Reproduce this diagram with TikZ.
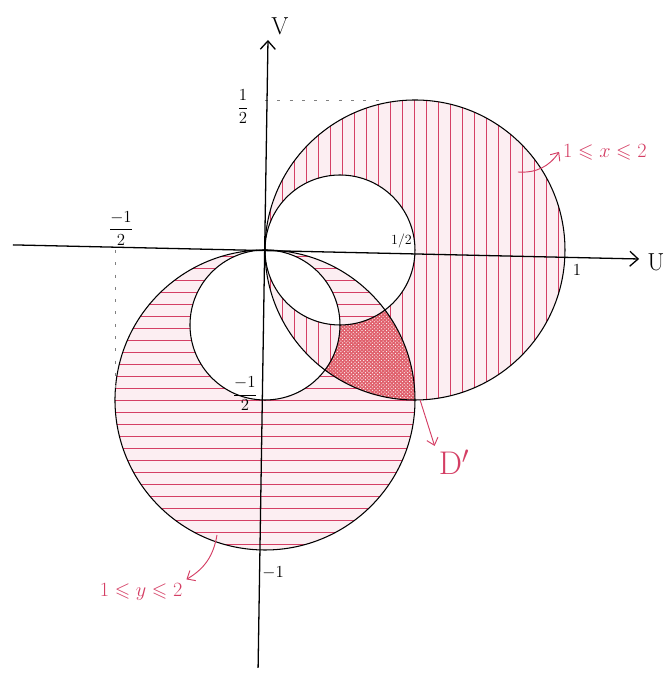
\documentclass[tikz,border=0pt]{standalone}
\usepackage{amsmath}
\usepackage{amssymb}
\usepackage{tikz}
\usetikzlibrary{arrows.meta, patterns}
\usepackage{xcolor}
\definecolor{stift}{RGB}{212,62,100}
\definecolor{stifthell}{RGB}{252,238,242}
\definecolor{stiftvoll}{RGB}{224,96,108}
\tikzset{
  kreis/.style={line width=0.9pt},
  schraffur/.style={draw=stift, line width=0.85pt},
  achse/.style={line width=1.1pt, -{Straight Barb[length=2.5mm, width=4.5mm]}},
  hilfslinie/.style={gray, line width=0.8pt, dash pattern=on 2.5pt off 8pt},
  zahl/.style={font=\fontsize{15}{17}\selectfont},
  rotlabel/.style={text=stift, font=\fontsize{17}{19}\selectfont},
  zeiger/.style={stift, line width=0.8pt, -{Straight Barb[length=2mm, width=3.5mm]}},
}

\begin{document}
\begin{tikzpicture}[x=9cm, y=9cm]

            \useasboundingbox (-0.8833,-1.4167) rectangle (1.3433,0.8333);

            % senkrechte Schraffur fuer 1 <= x <= 2
            \begin{scope}[even odd rule]
              \clip (0.5,0) circle (0.5) (0.25,0) circle (0.25);
              \fill[stifthell] (0,-0.5) rectangle (1,0.5);
              \foreach \xs in {0.02,0.06,...,1}
                \draw[schraffur] (\xs,-0.5) -- (\xs,0.5);
            \end{scope}

            % waagrechte Schraffur fuer 1 <= y <= 2
            \begin{scope}[even odd rule]
              \clip (0,-0.5) circle (0.5) (0,-0.25) circle (0.25);
              \fill[stifthell] (-0.5,-1) rectangle (0.5,0);
              \foreach \ys in {-0.98,-0.94,...,0}
                \draw[schraffur, line width=0.8pt] (-0.5,\ys) -- (0.5,\ys);
            \end{scope}

            % Schnitt D'
            \begin{scope}[even odd rule]
              \clip (0.5,0) circle (0.5);
              \clip (0,-0.5) circle (0.5);
              \clip (-1,-1) rectangle (1,1) (0.25,0) circle (0.25);
              \clip (-1,-1) rectangle (1,1) (0,-0.25) circle (0.25);
              \fill[stiftvoll] (0,-0.6) rectangle (0.6,0);
              \fill[pattern=crosshatch dots, pattern color=white] (0,-0.6) rectangle (0.6,0);
            \end{scope}

            % Kreise
            \draw[kreis] (0.5,0) circle (0.5);
            \draw[kreis] (0.25,0) circle (0.25);
            \draw[kreis] (0,-0.5) circle (0.5);
            \draw[kreis] (0,-0.25) circle (0.25);

            % gestrichelte Hilfslinien
            \draw[hilfslinie] (0,0.5) -- (0.4,0.5);
            \draw[hilfslinie] (-0.5,0) -- (-0.5,-0.5);

            % Achsen
            \coordinate (ulinks) at (-0.84,0.017);
            \coordinate (urechts) at (1.247,-0.03);
            \coordinate (vunten) at (-0.023,-1.393);
            \coordinate (voben) at (0.01,0.70);
            \draw[achse] (ulinks) -- (urechts);
            \draw[achse] (vunten) -- (voben);
            \node[font=\fontsize{21}{23}\selectfont] (ulab) at (1.303,-0.04) {U};
            \node[font=\fontsize{21}{23}\selectfont] (vlab) at (0.05,0.747) {V};

            % Beschriftung der Achsen
            \node[zahl] (vhalb) at (-0.073,0.477) {$\dfrac{1}{2}$};
            \node[zahl] (uminushalb) at (-0.48,0.073) {$\dfrac{-1}{2}$};
            \node[font=\fontsize{13}{15}\selectfont, inner sep=0pt] (uhalb) at (0.455,0.03) {$1/2$};
            \node[zahl] (vminushalb) at (-0.067,-0.48) {$\dfrac{-1}{2}$};
            \node[zahl] (ueins) at (1.04,-0.067) {$1$};
            \node[zahl] (vminuseins) at (0.027,-1.077) {$-1$};

            % rote Beschriftungen mit Pfeilen
            \node[rotlabel] (xlab) at (1.133,0.327) {$1\leqslant x\leqslant 2$};
            \coordinate (xstart) at (0.843,0.26);
            \draw[zeiger] (xstart) to[bend right=30] (xlab.west);

            \node[rotlabel] (ylab) at (-0.413,-1.14) {$1\leqslant y\leqslant 2$};
            \coordinate (ystart) at (-0.16,-0.95);
            \draw[zeiger] (ystart) to[bend left=25] (ylab.north east);

            \node[text=stift, font=\fontsize{28}{30}\selectfont] (dlab) at (0.63,-0.707) {D$'$};
            \coordinate (dstart) at (0.517,-0.5);
            \draw[zeiger] (dstart) -- (dlab.north west);

         \end{tikzpicture}
\end{document}
